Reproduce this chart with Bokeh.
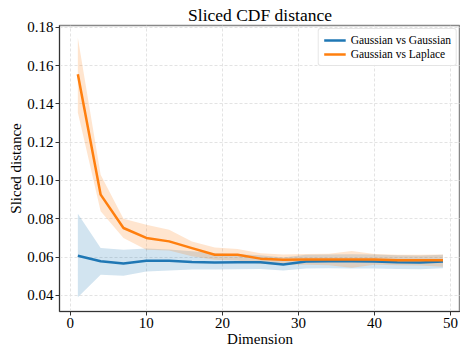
from bokeh.plotting import figure
from bokeh.models import Legend, LegendItem, Range1d, FixedTicker, CustomJSTickFormatter
from bokeh.embed import file_html
from bokeh.resources import INLINE

dims = [1, 4, 7, 10, 13, 16, 19, 22, 25, 28, 31, 34, 37, 40, 43, 46, 49]

gg_mean = [0.0607, 0.0578, 0.0566, 0.0581, 0.0581, 0.0575, 0.0572, 0.0573, 0.0573, 0.0561,
           0.0577, 0.0578, 0.0578, 0.0577, 0.0573, 0.0572, 0.0577]
gg_low = [0.0390, 0.0508, 0.0502, 0.0525, 0.0530, 0.0535, 0.0535, 0.0536, 0.0538, 0.0530,
          0.0540, 0.0542, 0.0540, 0.0540, 0.0538, 0.0537, 0.0542]
gg_high = [0.0826, 0.0647, 0.0639, 0.0645, 0.0640, 0.0630, 0.0620, 0.0615, 0.0610, 0.0598,
           0.0612, 0.0614, 0.0615, 0.0614, 0.0610, 0.0608, 0.0612]

gl_mean = [0.1555, 0.0926, 0.0752, 0.0700, 0.0682, 0.0647, 0.0612, 0.0612, 0.0592, 0.0586,
           0.0588, 0.0588, 0.0588, 0.0588, 0.0584, 0.0583, 0.0584]
gl_low = [0.1355, 0.0839, 0.0700, 0.0639, 0.0635, 0.0604, 0.0586, 0.0582, 0.0565, 0.0560,
          0.0560, 0.0558, 0.0545, 0.0560, 0.0558, 0.0556, 0.0550]
gl_high = [0.1745, 0.1030, 0.0800, 0.0769, 0.0743, 0.0682, 0.0650, 0.0642, 0.0620, 0.0614,
           0.0616, 0.0618, 0.0632, 0.0616, 0.0612, 0.0612, 0.0614]

x_ticks = [0, 10, 20, 30, 40, 50]
y_ticks = [0.04, 0.06, 0.08, 0.10, 0.12, 0.14, 0.16, 0.18]

BLUE = "#1f77b4"
ORANGE = "#ff7f0e"
SERIF = "Liberation Serif"

p = figure(width=460, height=349, output_backend="svg", toolbar_location=None,
           x_range=Range1d(-1.41, 51.3), y_range=Range1d(0.0316, 0.1809),
           min_border_left=59, min_border_right=0, min_border_top=25, min_border_bottom=37)

p.title.text = "Sliced CDF distance"
p.title.align = "center"
p.title.text_font = SERIF
p.title.text_font_size = "17.5px"
p.title.text_font_style = "normal"
p.title.text_color = "black"
p.title.standoff = 2
p.title.offset = 0

p.varea(x=dims, y1=gg_low, y2=gg_high, fill_color=BLUE, fill_alpha=0.2)
p.varea(x=dims, y1=gl_low, y2=gl_high, fill_color=ORANGE, fill_alpha=0.2)
r1 = p.line(dims, gg_mean, line_color=BLUE, line_width=2.5)
r2 = p.line(dims, gl_mean, line_color=ORANGE, line_width=2.5)

p.xaxis.ticker = FixedTicker(ticks=x_ticks)
p.yaxis.ticker = FixedTicker(ticks=y_ticks)
p.yaxis.formatter = CustomJSTickFormatter(code="return tick.toFixed(2);")

for ax in (p.xaxis[0], p.yaxis[0]):
    ax.axis_label_text_font = SERIF
    ax.axis_label_text_font_size = "15px"
    ax.axis_label_text_font_style = "normal"
    ax.axis_label_text_color = "black"
    ax.major_label_text_font = SERIF
    ax.major_label_text_font_size = "15px"
    ax.major_label_text_color = "black"
    ax.axis_line_color = "#333333"
    ax.major_tick_line_color = "#333333"
    ax.major_tick_out = 4
    ax.major_tick_in = 0
    ax.minor_tick_line_color = None
    ax.major_label_standoff = 2
    ax.axis_label_standoff = 0

p.xaxis.axis_label = "Dimension"
p.yaxis.axis_label = "Sliced distance"

p.grid.grid_line_color = "#e3e3e3"
p.grid.grid_line_dash = "3 2"
p.grid.grid_line_width = 1

p.outline_line_color = "#888888"
p.outline_line_width = 1.5

legend = Legend(items=[LegendItem(label="Gaussian vs Gaussian", renderers=[r1]),
                       LegendItem(label="Gaussian vs Laplace", renderers=[r2])],
                location="top_right")
legend.label_text_font = SERIF
legend.label_text_font_size = "11.5px"
legend.label_text_color = "black"
legend.border_line_color = "#cccccc"
legend.border_radius = 3
legend.glyph_width = 22
legend.glyph_height = 12
legend.label_height = 12
legend.spacing = 2
legend.padding = 5
legend.margin = 3
legend.background_fill_alpha = 0.9
p.add_layout(legend)

open("out.html", "w").write(file_html(p, INLINE))
